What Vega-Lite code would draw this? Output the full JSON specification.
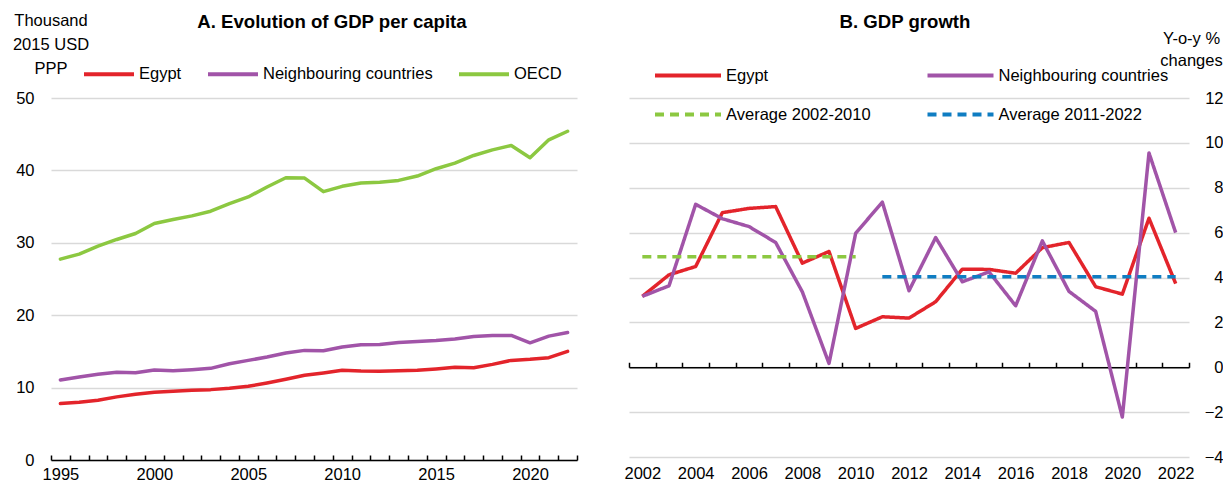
{
  "$schema": "https://vega.github.io/schema/vega-lite/v6.json",
  "background": "white",
  "padding": {"left": 12, "top": 12, "right": 0, "bottom": 0},
  "config": {
    "font": "Liberation Sans",
    "view": {"stroke": null},
    "axis": {
      "labelFont": "Liberation Sans",
      "labelFontSize": 16.5,
      "labelColor": "#000000",
      "titleFont": "Liberation Sans",
      "titleFontSize": 16.5,
      "titleFontWeight": "normal",
      "titleColor": "#000000",
      "gridColor": "#d9d9d9",
      "gridWidth": 1.5,
      "domainColor": "#000000",
      "domainWidth": 1.5,
      "tickColor": "#000000",
      "tickWidth": 1.5
    },
    "legend": {
      "labelFont": "Liberation Sans",
      "labelFontSize": 16.5,
      "labelColor": "#000000",
      "labelLimit": 400
    },
    "title": {
      "font": "Liberation Sans",
      "fontSize": 18.6,
      "fontWeight": "bold",
      "color": "#000000"
    }
  },
  "bounds": "flush",
  "spacing": 52,
  "resolve": {"scale": {"color": "independent", "strokeDash": "independent"}},
  "hconcat": [
    {
      "width": 526,
      "height": 362,
      "title": {"text": "A. Evolution of GDP per capita", "anchor": "middle", "frame": "group", "dx": 18, "offset": -20},
      "data": {"values": [
        {"year": 1995, "series": "Egypt", "value": 7.80}, {"year": 1996, "series": "Egypt", "value": 7.98}, {"year": 1997, "series": "Egypt", "value": 8.26}, {"year": 1998, "series": "Egypt", "value": 8.72}, {"year": 1999, "series": "Egypt", "value": 9.08}, {"year": 2000, "series": "Egypt", "value": 9.36}, {"year": 2001, "series": "Egypt", "value": 9.50}, {"year": 2002, "series": "Egypt", "value": 9.63}, {"year": 2003, "series": "Egypt", "value": 9.72}, {"year": 2004, "series": "Egypt", "value": 9.91}, {"year": 2005, "series": "Egypt", "value": 10.18}, {"year": 2006, "series": "Egypt", "value": 10.64}, {"year": 2007, "series": "Egypt", "value": 11.15}, {"year": 2008, "series": "Egypt", "value": 11.70}, {"year": 2009, "series": "Egypt", "value": 12.02}, {"year": 2010, "series": "Egypt", "value": 12.39}, {"year": 2011, "series": "Egypt", "value": 12.29}, {"year": 2012, "series": "Egypt", "value": 12.25}, {"year": 2013, "series": "Egypt", "value": 12.34}, {"year": 2014, "series": "Egypt", "value": 12.39}, {"year": 2015, "series": "Egypt", "value": 12.57}, {"year": 2016, "series": "Egypt", "value": 12.80}, {"year": 2017, "series": "Egypt", "value": 12.75}, {"year": 2018, "series": "Egypt", "value": 13.21}, {"year": 2019, "series": "Egypt", "value": 13.76}, {"year": 2020, "series": "Egypt", "value": 13.90}, {"year": 2021, "series": "Egypt", "value": 14.13}, {"year": 2022, "series": "Egypt", "value": 15.00},
        {"year": 1995, "series": "Neighbouring countries", "value": 11.06}, {"year": 1996, "series": "Neighbouring countries", "value": 11.47}, {"year": 1997, "series": "Neighbouring countries", "value": 11.83}, {"year": 1998, "series": "Neighbouring countries", "value": 12.11}, {"year": 1999, "series": "Neighbouring countries", "value": 12.06}, {"year": 2000, "series": "Neighbouring countries", "value": 12.43}, {"year": 2001, "series": "Neighbouring countries", "value": 12.34}, {"year": 2002, "series": "Neighbouring countries", "value": 12.48}, {"year": 2003, "series": "Neighbouring countries", "value": 12.66}, {"year": 2004, "series": "Neighbouring countries", "value": 13.30}, {"year": 2005, "series": "Neighbouring countries", "value": 13.76}, {"year": 2006, "series": "Neighbouring countries", "value": 14.22}, {"year": 2007, "series": "Neighbouring countries", "value": 14.77}, {"year": 2008, "series": "Neighbouring countries", "value": 15.14}, {"year": 2009, "series": "Neighbouring countries", "value": 15.09}, {"year": 2010, "series": "Neighbouring countries", "value": 15.60}, {"year": 2011, "series": "Neighbouring countries", "value": 15.92}, {"year": 2012, "series": "Neighbouring countries", "value": 15.96}, {"year": 2013, "series": "Neighbouring countries", "value": 16.24}, {"year": 2014, "series": "Neighbouring countries", "value": 16.38}, {"year": 2015, "series": "Neighbouring countries", "value": 16.51}, {"year": 2016, "series": "Neighbouring countries", "value": 16.70}, {"year": 2017, "series": "Neighbouring countries", "value": 17.06}, {"year": 2018, "series": "Neighbouring countries", "value": 17.20}, {"year": 2019, "series": "Neighbouring countries", "value": 17.20}, {"year": 2020, "series": "Neighbouring countries", "value": 16.19}, {"year": 2021, "series": "Neighbouring countries", "value": 17.11}, {"year": 2022, "series": "Neighbouring countries", "value": 17.61},
        {"year": 1995, "series": "OECD", "value": 27.75}, {"year": 1996, "series": "OECD", "value": 28.44}, {"year": 1997, "series": "OECD", "value": 29.54}, {"year": 1998, "series": "OECD", "value": 30.46}, {"year": 1999, "series": "OECD", "value": 31.28}, {"year": 2000, "series": "OECD", "value": 32.66}, {"year": 2001, "series": "OECD", "value": 33.21}, {"year": 2002, "series": "OECD", "value": 33.72}, {"year": 2003, "series": "OECD", "value": 34.36}, {"year": 2004, "series": "OECD", "value": 35.41}, {"year": 2005, "series": "OECD", "value": 36.33}, {"year": 2006, "series": "OECD", "value": 37.71}, {"year": 2007, "series": "OECD", "value": 38.99}, {"year": 2008, "series": "OECD", "value": 38.94}, {"year": 2009, "series": "OECD", "value": 37.06}, {"year": 2010, "series": "OECD", "value": 37.80}, {"year": 2011, "series": "OECD", "value": 38.26}, {"year": 2012, "series": "OECD", "value": 38.35}, {"year": 2013, "series": "OECD", "value": 38.62}, {"year": 2014, "series": "OECD", "value": 39.22}, {"year": 2015, "series": "OECD", "value": 40.23}, {"year": 2016, "series": "OECD", "value": 41.00}, {"year": 2017, "series": "OECD", "value": 42.06}, {"year": 2018, "series": "OECD", "value": 42.84}, {"year": 2019, "series": "OECD", "value": 43.44}, {"year": 2020, "series": "OECD", "value": 41.74}, {"year": 2021, "series": "OECD", "value": 44.22}, {"year": 2022, "series": "OECD", "value": 45.41}
      ]},
      "mark": {"type": "line", "strokeWidth": 3.5, "strokeCap": "round", "strokeJoin": "round"},
      "encoding": {
        "x": {
          "field": "year", "type": "quantitative",
          "scale": {"domain": [1994.5, 2022.5], "nice": false, "zero": false},
          "axis": {
            "title": null, "grid": false,
            "values": [1994.5, 1995.5, 1996.5, 1997.5, 1998.5, 1999.5, 2000.5, 2001.5, 2002.5, 2003.5, 2004.5, 2005.5, 2006.5, 2007.5, 2008.5, 2009.5, 2010.5, 2011.5, 2012.5, 2013.5, 2014.5, 2015.5, 2016.5, 2017.5, 2018.5, 2019.5, 2020.5, 2021.5, 2022.5],
            "labelExpr": "(datum.value + 0.5) % 5 == 0 && datum.value < 2022 ? toString(datum.value + 0.5) : ''",
            "labelOffset": 9.4, "labelFlush": false, "labelOverlap": false,
            "tickSize": -5, "labelPadding": 11
          }
        },
        "y": {
          "field": "value", "type": "quantitative",
          "scale": {"domain": [0, 50], "nice": false},
          "axis": {
            "values": [0, 10, 20, 30, 40, 50], "grid": true, "domain": false, "ticks": false,
            "labelPadding": 17,
            "title": ["Thousand", "2015 USD", "PPP"], "titleAngle": 0, "titleAlign": "center", "titleBaseline": "top",
            "titleX": -0.5, "titleY": -86, "titleLineHeight": 24
          }
        },
        "color": {
          "field": "series", "type": "nominal",
          "scale": {"domain": ["Egypt", "Neighbouring countries", "OECD"], "range": ["#E3242B", "#A154A8", "#8CC841"]},
          "legend": {
            "orient": "none", "legendX": 31, "legendY": -51, "direction": "horizontal", "title": null,
            "symbolType": "stroke", "symbolSize": 2500, "symbolStrokeWidth": 4, "columnPadding": 18, "labelOffset": 3
          }
        }
      }
    },
    {
      "width": 560,
      "height": 359,
      "title": {"text": "B. GDP growth", "anchor": "middle", "frame": "group", "dx": -4, "offset": -2},
      "data": {"values": [
        {"year": 2002, "series": "Egypt", "value": 3.16}, {"year": 2003, "series": "Egypt", "value": 4.12}, {"year": 2004, "series": "Egypt", "value": 4.49}, {"year": 2005, "series": "Egypt", "value": 6.89}, {"year": 2006, "series": "Egypt", "value": 7.08}, {"year": 2007, "series": "Egypt", "value": 7.16}, {"year": 2008, "series": "Egypt", "value": 4.64}, {"year": 2009, "series": "Egypt", "value": 5.16}, {"year": 2010, "series": "Egypt", "value": 1.73}, {"year": 2011, "series": "Egypt", "value": 2.25}, {"year": 2012, "series": "Egypt", "value": 2.19}, {"year": 2013, "series": "Egypt", "value": 2.92}, {"year": 2014, "series": "Egypt", "value": 4.37}, {"year": 2015, "series": "Egypt", "value": 4.36}, {"year": 2016, "series": "Egypt", "value": 4.19}, {"year": 2017, "series": "Egypt", "value": 5.33}, {"year": 2018, "series": "Egypt", "value": 5.56}, {"year": 2019, "series": "Egypt", "value": 3.59}, {"year": 2020, "series": "Egypt", "value": 3.26}, {"year": 2021, "series": "Egypt", "value": 6.64}, {"year": 2022, "series": "Egypt", "value": 3.73},
        {"year": 2002, "series": "Neighbouring countries", "value": 3.16}, {"year": 2003, "series": "Neighbouring countries", "value": 3.63}, {"year": 2004, "series": "Neighbouring countries", "value": 7.26}, {"year": 2005, "series": "Neighbouring countries", "value": 6.62}, {"year": 2006, "series": "Neighbouring countries", "value": 6.27}, {"year": 2007, "series": "Neighbouring countries", "value": 5.56}, {"year": 2008, "series": "Neighbouring countries", "value": 3.36}, {"year": 2009, "series": "Neighbouring countries", "value": 0.17}, {"year": 2010, "series": "Neighbouring countries", "value": 5.97}, {"year": 2011, "series": "Neighbouring countries", "value": 7.36}, {"year": 2012, "series": "Neighbouring countries", "value": 3.41}, {"year": 2013, "series": "Neighbouring countries", "value": 5.78}, {"year": 2014, "series": "Neighbouring countries", "value": 3.81}, {"year": 2015, "series": "Neighbouring countries", "value": 4.25}, {"year": 2016, "series": "Neighbouring countries", "value": 2.74}, {"year": 2017, "series": "Neighbouring countries", "value": 5.63}, {"year": 2018, "series": "Neighbouring countries", "value": 3.38}, {"year": 2019, "series": "Neighbouring countries", "value": 2.49}, {"year": 2020, "series": "Neighbouring countries", "value": -2.22}, {"year": 2021, "series": "Neighbouring countries", "value": 9.55}, {"year": 2022, "series": "Neighbouring countries", "value": 6.0},
        {"year": 2002, "series": "Average 2002-2010", "value": 4.93}, {"year": 2010, "series": "Average 2002-2010", "value": 4.93},
        {"year": 2011, "series": "Average 2011-2022", "value": 4.03}, {"year": 2022, "series": "Average 2011-2022", "value": 4.03}
      ]},
      "mark": {"type": "line", "strokeWidth": 3.5, "strokeJoin": "round"},
      "encoding": {
        "x": {
          "field": "year", "type": "quantitative",
          "scale": {"domain": [2001.5, 2022.5], "nice": false, "zero": false},
          "axis": {
            "title": null, "grid": false, "offset": -89.75,
            "values": [2001.5, 2002.5, 2003.5, 2004.5, 2005.5, 2006.5, 2007.5, 2008.5, 2009.5, 2010.5, 2011.5, 2012.5, 2013.5, 2014.5, 2015.5, 2016.5, 2017.5, 2018.5, 2019.5, 2020.5, 2021.5, 2022.5],
            "labelExpr": "(datum.value + 0.5) % 2 == 0 && datum.value < 2022 ? toString(datum.value + 0.5) : ''",
            "labelOffset": 13.33, "labelFlush": false, "labelOverlap": false,
            "tickSize": -5, "labelPadding": 103
          }
        },
        "y": {
          "field": "value", "type": "quantitative",
          "scale": {"domain": [-4, 12], "nice": false, "zero": false},
          "axis": {
            "orient": "right",
            "values": [-4, -2, 0, 2, 4, 6, 8, 10, 12], "grid": true, "domain": false, "ticks": false,
            "labelAlign": "right", "labelPadding": 34,
            "title": ["Y-o-y %", "changes"], "titleAngle": 0, "titleAlign": "center", "titleBaseline": "top",
            "titleX": 2, "titleY": -68, "titleLineHeight": 22
          }
        },
        "color": {
          "field": "series", "type": "nominal",
          "scale": {"domain": ["Egypt", "Neighbouring countries", "Average 2002-2010", "Average 2011-2022"], "range": ["#E3242B", "#A154A8", "#8CC841", "#0F7DC2"]},
          "legend": {
            "orient": "none", "legendX": 40.5, "legendY": -41, "columns": 2, "direction": "horizontal", "title": null,
            "symbolType": "M-2,0H2", "symbolSize": 1089, "symbolStrokeWidth": 4, "columnPadding": 47.5, "rowPadding": 12, "labelOffset": 19.5
          }
        },
        "strokeDash": {
          "field": "series", "type": "nominal",
          "scale": {"domain": ["Egypt", "Neighbouring countries", "Average 2002-2010", "Average 2011-2022"], "range": [[1, 0], [1, 0], [9, 6], [9, 6]]},
          "legend": {
            "orient": "none", "legendX": 40.5, "legendY": -41, "columns": 2, "direction": "horizontal", "title": null,
            "symbolType": "M-2,0H2", "symbolSize": 1089, "symbolStrokeWidth": 4, "columnPadding": 47.5, "rowPadding": 12, "labelOffset": 19.5
          }
        }
      }
    }
  ]
}
